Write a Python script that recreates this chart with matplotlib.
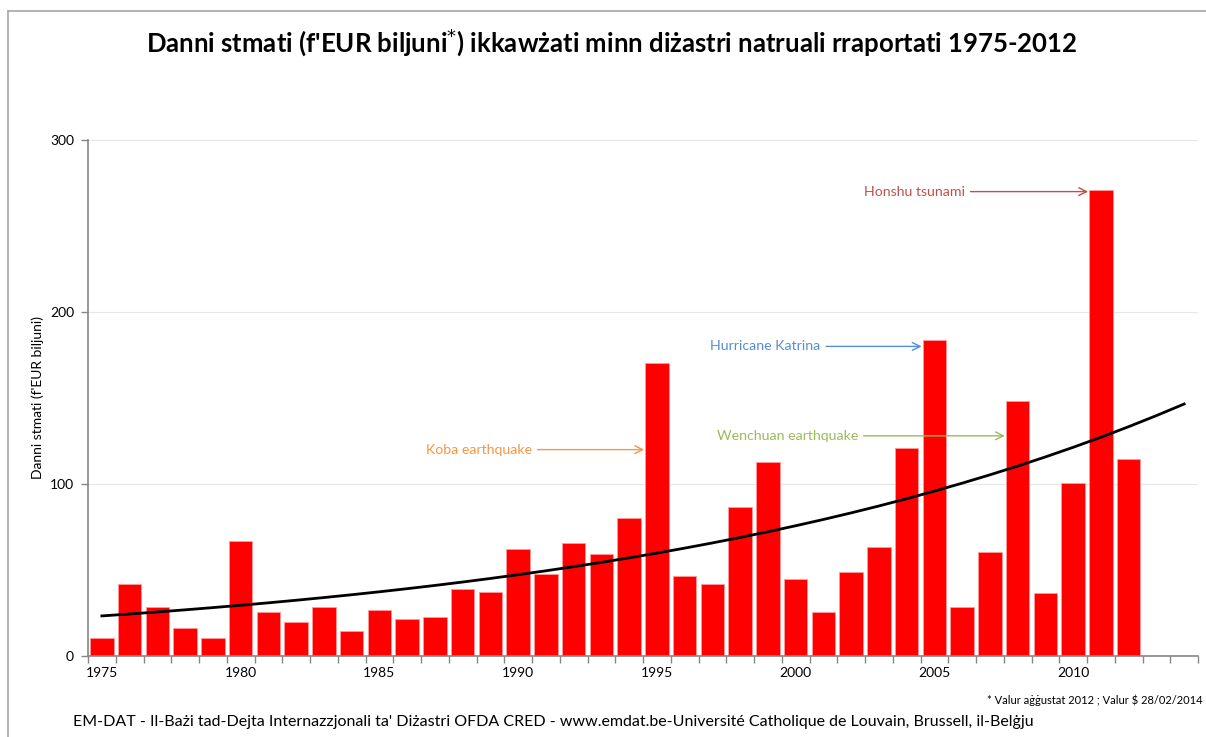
import numpy as np
import matplotlib.pyplot as plt
from matplotlib.lines import Line2D

# Dati: danni stmati (f'EUR biljuni) kull sena
years = list(range(1975, 2013))
damages = [10.5, 41.9, 28.5, 16.3, 10.5, 66.9, 25.6, 19.8, 28.5, 14.5,
           26.7, 21.5, 22.7, 39.0, 37.2, 62.2, 47.7, 65.7, 59.3, 80.2,
           170.3, 46.5, 41.9, 86.6, 112.8, 44.8, 25.6, 48.8, 63.4, 120.9,
           183.7, 28.5, 60.5, 148.3, 36.6, 100.6, 270.9, 114.5]
axis_years = list(range(1975, 2015))
year_labels = ["1975", "1980", "1985", "1990", "1995", "2000", "2005", "2010"]
y_ticks = [0, 100, 200, 300]

# Trendline esponenzjali kif tidher fil-grafika (valur fl-1975 u fl-2014)
trend_start = 23.3
trend_end = 146.5

# Annotazzjonijiet: (test, sena tal-vleġġa, valur, fejn jispiċċa t-test, kulur)
events = [
    ("Koba earthquake", 1995, 120, 15.5, "#f79646"),
    ("Hurricane Katrina", 2005, 180, 25.9, "#558ed5"),
    ("Wenchuan earthquake", 2008, 128, 27.25, "#9bbb59"),
    ("Honshu tsunami", 2011, 270, 31.1, "#c0504d"),
]

plt.rcParams['font.family'] = ['Lato', 'DejaVu Sans']

fig = plt.figure(figsize=(12.06, 7.37), dpi=100)
W, H = 1206, 737
ax = fig.add_axes([88 / W, 1 - 656 / H, (1198 - 88) / W, (656 - 140) / H])

x = np.arange(len(years))
ax.bar(x, damages, width=0.84, color="#ff0000", edgecolor="#ff9a9a", linewidth=0.6, zorder=2)

xt = np.arange(len(axis_years))
yt = trend_start * (trend_end / trend_start) ** (xt / xt[-1])
ax.plot(xt, yt, color="black", linewidth=2, zorder=3)

ax.set_xlim(-0.5, len(axis_years) - 0.5)
ax.set_ylim(0, 300)
ax.set_yticks(y_ticks)
ax.set_yticklabels([str(v) for v in y_ticks], fontsize=10)
ax.yaxis.grid(True, color="#e6e6e6", linewidth=0.8, zorder=0)
ax.set_axisbelow(True)

ax.set_xticks(np.arange(-0.5, len(axis_years), 1))
ax.set_xticklabels([])
ax.set_xticks([axis_years.index(int(s)) for s in year_labels], minor=True)
ax.set_xticklabels(year_labels, minor=True, fontsize=10)
ax.tick_params(axis="x", which="major", length=5, color="#868686", width=1)
ax.tick_params(axis="x", which="minor", length=0, pad=8)
ax.tick_params(axis="y", length=5, color="#868686", width=1, pad=5)

for s in ["top", "right"]:
    ax.spines[s].set_visible(False)
for s in ["left", "bottom"]:
    ax.spines[s].set_color("#868686")
    ax.spines[s].set_linewidth(1.2)

ax.set_ylabel("Danni stmati (f'EUR biljuni)", fontsize=10, labelpad=4)

for label, yr, val, text_end, col in events:
    tip = years.index(yr) - 0.46
    ax.annotate(label, xy=(tip, val), xytext=(text_end, val), ha="right", va="center",
                color=col, fontsize=10.2,
                arrowprops=dict(arrowstyle="->", color=col, lw=1, shrinkA=2, shrinkB=0,
                                relpos=(1, 0.5), mutation_scale=14))

fig.text(612 / W, 1 - 42 / H, "Danni stmati (f'EUR biljuni$^{*}$) ikkawżati minn diżastri natruali rraportati 1975-2012",
         ha="center", va="center", fontsize=18.5, fontweight="bold")
fig.text(1203 / W, 1 - 700 / H, "* Valur aġġustat 2012 ; Valur $ 28/02/2014",
         ha="right", va="center", fontsize=8)
fig.text(553 / W, 1 - 722 / H,
         "EM-DAT - Il-Bażi tad-Dejta Internazzjonali ta' Diżastri OFDA CRED - www.emdat.be-Université Catholique de Louvain, Brussell, il-Belġju",
         ha="center", va="center", fontsize=11.5)

# Qafas tal-grafika
fig.add_artist(Line2D([8 / W, 8 / W], [0, 1 - 11 / H], color="#a6a6a6", linewidth=1.2))
fig.add_artist(Line2D([8 / W, 1], [1 - 11 / H, 1 - 11 / H], color="#a6a6a6", linewidth=1.2))

fig.savefig("out.png", dpi=100)
